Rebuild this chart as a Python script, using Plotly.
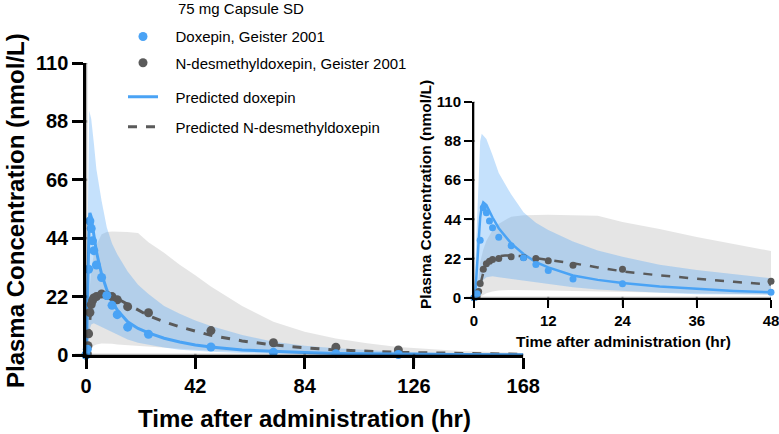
import plotly.graph_objects as go

# ---------------- data ----------------
t_obs_dox = [0, 0.5, 1, 1.5, 2, 2.5, 3, 4, 6, 8, 10, 12, 16, 24, 48, 72, 96, 120]
c_obs_dox = [0, 2.2, 32.3, 50.5, 47.7, 43, 39.3, 33.9, 29.2, 22.4, 18.7, 15.2, 10.5, 7.8, 3.0, 1.0, 0.5, 0.2]

t_obs_nd = [0, 0.5, 0.75, 1, 1.5, 2, 2.5, 3, 4, 6, 8, 10, 12, 16, 24, 48, 72, 96, 120]
c_obs_nd = [0, 0.5, 3.5, 8, 16, 19, 20.5, 21.5, 22, 23, 22.5, 22, 20.8, 18.2, 15.9, 9.2, 4.6, 2.9, 1.9]

t_pred = [0, 0.25, 0.5, 0.75, 1, 1.25, 1.5, 2, 2.5, 3, 4, 5, 6, 8, 10, 12, 16, 20, 24,
          30, 36, 42, 48, 60, 72, 84, 96, 120, 144, 168]
dox_pred = [0, 5, 18, 33, 45, 51, 53.5, 52, 48.5, 45, 39, 34.5, 30.5, 24.5, 20, 17, 12.5, 10, 8.3,
            6.3, 4.9, 3.8, 3.0, 1.9, 1.3, 0.9, 0.6, 0.3, 0.15, 0.08]
nd_pred = [0, 0, 0.5, 3, 7, 11, 14, 18, 20.5, 22, 23.3, 23.7, 23.7, 23.2, 22.3, 21.3, 19.3, 17.0, 14.8,
           12.5, 10.6, 8.9, 7.4, 5.3, 3.8, 2.7, 1.9, 1.0, 0.5, 0.25]

t_band = [0, 0.5, 1, 1.25, 1.5, 2, 3, 4, 6, 8, 10, 12, 16, 20, 24, 30, 36, 42, 48,
          60, 72, 84, 96, 108, 120, 144, 168]
dox_hi = [0, 40, 88, 92, 91, 89, 80, 70, 58, 48, 42, 38, 31.5, 26.5, 23, 18.5, 15.5, 13, 10.9,
          7.5, 5, 3.5, 2.5, 1.8, 1.2, 0.6, 0.4]
dox_lo = [0, 0.5, 5, 8, 10, 11.5, 12, 11.5, 10.5, 9.5, 8.5, 7.5, 5.8, 4.6, 3.8, 2.8, 2.0, 1.5, 1.2,
          0.8, 0.5, 0.3, 0.2, 0.15, 0.1, 0.05, 0.03]
nd_hi = [0, 3, 20, 24, 27, 32, 38, 41.5, 45.5, 46.3, 46.5, 46.5, 46.3, 46, 42.5, 38.5, 34, 30, 25.8,
         18.5, 12.5, 8.8, 6.2, 4.4, 3.0, 1.5, 0.8]
nd_lo = [0, 0, 0.5, 1, 1.5, 2.5, 3.5, 4, 4.3, 4.3, 4.2, 4, 3.7, 3.4, 3.1, 2.7, 2.3, 2, 1.7,
         1.2, 0.9, 0.6, 0.45, 0.3, 0.2, 0.1, 0.05]

main_xticks = [0, 42, 84, 126, 168]
inset_xticks = [0, 12, 24, 36, 48]
yticks = [0, 22, 44, 66, 88, 110]

legend_title = "75 mg Capsule SD"
name_dox = "Doxepin, Geister 2001"
name_nd = "N-desmethyldoxepin, Geister 2001"
name_pdox = "Predicted doxepin"
name_pnd = "Predicted N-desmethyldoxepin"

# ---------------- style ----------------
BLUE = "#4aa3f5"
GRAY = "#5a5a5a"
AXC = "#000000"
BLUE_FILL = "rgba(74,163,245,0.32)"
GRAY_FILL = "rgba(0,0,0,0.10)"
FONT = "Liberation Sans, Arial, sans-serif"
W, H = 779, 434
NB = "\u00a0\u00a0\u00a0"

fig = go.Figure()


def add_set(xa, ya, msize, lw, main):
    fig.add_trace(go.Scatter(x=t_band, y=nd_lo, xaxis=xa, yaxis=ya, mode="lines",
                             line=dict(width=0, color=GRAY_FILL), showlegend=False, hoverinfo="skip"))
    fig.add_trace(go.Scatter(x=t_band, y=nd_hi, xaxis=xa, yaxis=ya, mode="lines", fill="tonexty",
                             fillcolor=GRAY_FILL, line=dict(width=0, color=GRAY_FILL),
                             showlegend=False, hoverinfo="skip"))
    fig.add_trace(go.Scatter(x=t_band, y=dox_lo, xaxis=xa, yaxis=ya, mode="lines",
                             line=dict(width=0, color=BLUE_FILL), showlegend=False, hoverinfo="skip"))
    fig.add_trace(go.Scatter(x=t_band, y=dox_hi, xaxis=xa, yaxis=ya, mode="lines", fill="tonexty",
                             fillcolor=BLUE_FILL, line=dict(width=0, color=BLUE_FILL),
                             showlegend=False, hoverinfo="skip"))
    fig.add_trace(go.Scatter(x=t_pred, y=nd_pred, xaxis=xa, yaxis=ya, mode="lines",
                             line=dict(color=GRAY, width=lw, dash="dash"),
                             name=NB + name_pnd, showlegend=main, legend="legend4"))
    fig.add_trace(go.Scatter(x=t_pred, y=dox_pred, xaxis=xa, yaxis=ya, mode="lines",
                             line=dict(color=BLUE, width=lw),
                             name=NB + name_pdox, showlegend=main, legend="legend3"))
    fig.add_trace(go.Scatter(x=t_obs_nd, y=c_obs_nd, xaxis=xa, yaxis=ya, mode="markers",
                             marker=dict(color=GRAY, size=msize), cliponaxis=False,
                             name=NB + name_nd, showlegend=main, legend="legend2"))
    fig.add_trace(go.Scatter(x=t_obs_dox, y=c_obs_dox, xaxis=xa, yaxis=ya, mode="markers",
                             marker=dict(color=BLUE, size=msize), cliponaxis=False,
                             name=NB + name_dox, showlegend=main, legend="legend"))


add_set("x", "y", 9, 3, True)
add_set("x2", "y2", 7, 2.5, False)


def px(xp):
    return xp / W


def py(yp):
    return (H - yp) / H


def axis(vals, **kw):
    d = dict(showline=True, linecolor=AXC, ticks="outside", tickcolor=AXC,
             showgrid=False, zeroline=False, automargin=False, layer="above traces",
             tickmode="array", tickvals=vals, ticktext=["<b>%d</b>" % v for v in vals],
             ticklabeloverflow="allow")
    d.update(kw)
    return d


def leg(yp):
    return dict(x=px(123), y=py(yp), xanchor="left", yanchor="middle",
                bgcolor="rgba(0,0,0,0)", font=dict(size=15), itemwidth=30)


fig.update_layout(
    template="simple_white",
    width=W, height=H,
    margin=dict(l=0, r=0, t=0, b=0, autoexpand=False),
    paper_bgcolor="white", plot_bgcolor="white",
    font=dict(family=FONT, color="black"),
    xaxis=axis(main_xticks, domain=[px(86), px(523.3)], range=[0, 168],
               linewidth=2.5, tickwidth=2.5, ticklen=11, tickfont=dict(size=20), anchor="y"),
    yaxis=axis(yticks, domain=[py(355), py(63)], range=[0, 110],
               linewidth=2.5, tickwidth=2.5, ticklen=11, tickfont=dict(size=20), anchor="x"),
    xaxis2=axis(inset_xticks, domain=[px(474), px(771)], range=[0, 48],
                linewidth=2, tickwidth=2, ticklen=8, tickfont=dict(size=15), anchor="y2"),
    yaxis2=axis(yticks, domain=[py(297.7), py(101.7)], range=[0, 110],
                linewidth=2, tickwidth=2, ticklen=8, tickfont=dict(size=15), anchor="x2"),
    legend=leg(36.7), legend2=leg(63), legend3=leg(97), legend4=leg(127),
    showlegend=True,
)


# filled thin rectangles along the axes (same place as the axis lines/ticks)
def axis_rects(xid, yid, xvals, yvals, lw, tl):
    h = lw / 2.0
    common = dict(type="rect", fillcolor=AXC, line=dict(width=0), layer="above")
    # x axis line
    fig.add_shape(xref=xid + " domain", yref=yid + " domain", ysizemode="pixel", yanchor=0,
                  x0=0, x1=1, y0=-h, y1=h, **common)
    # y axis line
    fig.add_shape(xref=xid + " domain", yref=yid + " domain", xsizemode="pixel", xanchor=0,
                  x0=-h, x1=h, y0=0, y1=1, **common)
    for v in xvals:
        fig.add_shape(xref=xid, yref=yid + " domain", xsizemode="pixel", xanchor=v,
                      ysizemode="pixel", yanchor=0, x0=-h, x1=h, y0=-tl, y1=h, **common)
    for v in yvals:
        fig.add_shape(yref=yid, xref=xid + " domain", ysizemode="pixel", yanchor=v,
                      xsizemode="pixel", xanchor=0, y0=-h, y1=h, x0=-tl, x1=h, **common)


axis_rects("x", "y", main_xticks, yticks, 2.5, 11)
axis_rects("x2", "y2", inset_xticks, yticks, 2, 8)

annots = [
    dict(text=legend_title, x=px(176), y=py(8), xanchor="left", yanchor="middle",
         font=dict(size=15)),
    dict(text="<b>Plasma Concentration (nmol/L)</b>", x=px(16), y=py(211), textangle=-90,
         xanchor="center", yanchor="middle", font=dict(size=24)),
    dict(text="<b>Time after administration (hr)</b>", x=px(304), y=py(418),
         xanchor="center", yanchor="middle", font=dict(size=24)),
    dict(text="<b>Plasma Concentration (nmol/L)</b>", x=px(425), y=py(195), textangle=-90,
         xanchor="center", yanchor="middle", font=dict(size=15.5)),
    dict(text="<b>Time after administration (hr)</b>", x=px(623), y=py(341),
         xanchor="center", yanchor="middle", font=dict(size=15.5)),
]
for a in annots:
    fig.add_annotation(xref="paper", yref="paper", showarrow=False, **a)

fig.write_html("out.html")
